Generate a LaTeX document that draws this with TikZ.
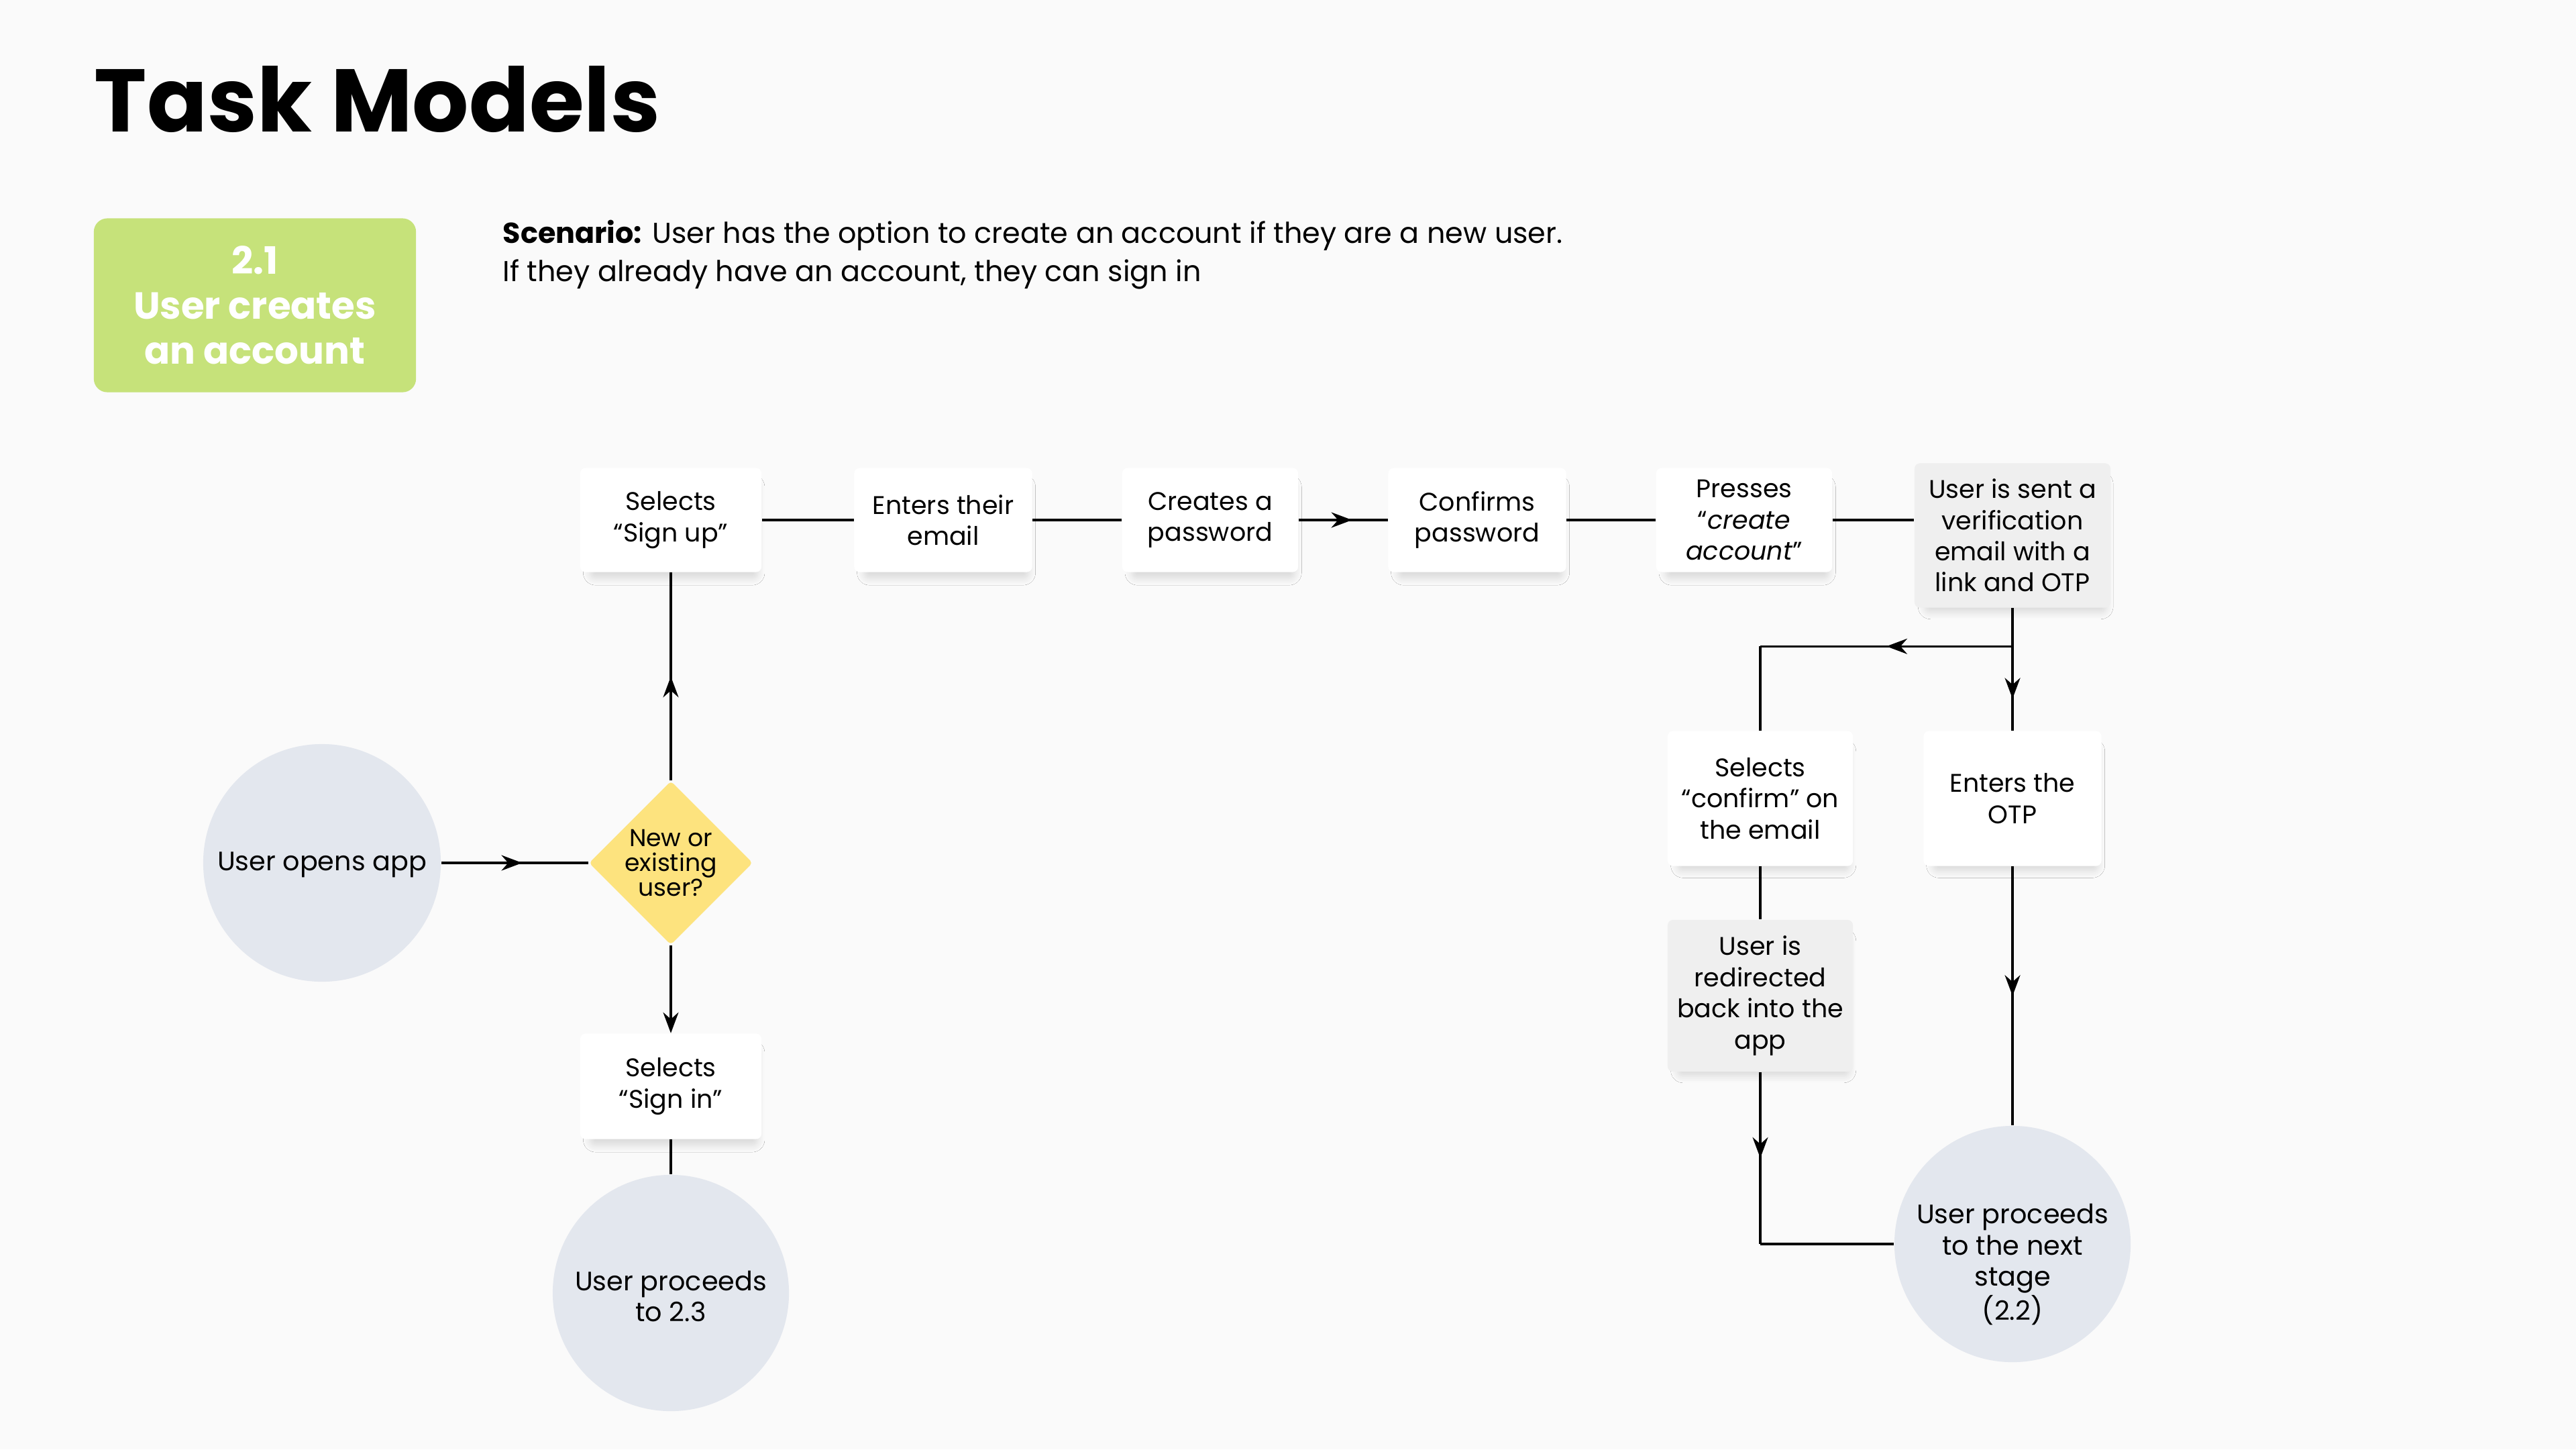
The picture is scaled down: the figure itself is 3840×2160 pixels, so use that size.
\documentclass[tikz,border=0pt]{standalone}
\usepackage{fontspec}
\setmainfont{Poppins}
\usetikzlibrary{arrows.meta,shapes.geometric,decorations.markings,shadows.blur}
\definecolor{bgcol}{HTML}{FAFAFA}
\definecolor{circcol}{HTML}{E3E7EE}
\definecolor{diacol}{HTML}{FDE37E}
\definecolor{greencol}{HTML}{C6E27A}
\definecolor{graycol}{HTML}{EFEFEF}
\newcommand{\lowtext}[2]{\raisebox{-#1}[0pt][0pt]{\begin{tabular}{@{}c@{}}#2\end{tabular}}}
\tikzset{
  box/.style={draw=none, fill=white, rounded corners=0.08cm, align=center, inner sep=0pt,
    font=\fontsize{10.8}{13.2}\selectfont,
    blur shadow={shadow xshift=0.05cm, shadow yshift=-0.16cm, shadow blur radius=0.12cm,
      shadow blur steps=8, shadow opacity=14, shadow scale=0.92}},
  graybox/.style={box, fill=graycol},
  disk/.style={circle, fill=circcol, align=center, inner sep=0pt, font=\fontsize{11.3}{13.2}\selectfont},
  dia/.style={diamond, fill=diacol, rounded corners=0.05cm, minimum width=2.44cm, minimum height=2.44cm,
    inner sep=0pt, align=center, font=\fontsize{10.3}{10.4}\selectfont},
  conn/.style={line width=0.032cm, black},
  midarrow/.style={conn, postaction={decorate}, decoration={markings,
    mark=at position #1 with {\arrow{Stealth[length=0.31cm,width=0.23cm]}}}},
  midarrow/.default=0.5,
  endarrow/.style={conn, -{Stealth[length=0.31cm,width=0.23cm]}},
}
\begin{document}
\begin{tikzpicture}[x=0.01cm, y=-0.01cm]
\fill[bgcol] (0,0) rectangle (3840,2160);
\useasboundingbox (0,0) rectangle (3840,2160);

% title
\node[anchor=base west, inner sep=0pt, font=\fontsize{37.7}{40}\selectfont\bfseries] (title) at (140,196) {Task Models};

% green label
\node[fill=greencol, rounded corners=0.2cm, minimum width=4.8cm, minimum height=2.59cm, align=center,
  inner sep=0pt, text=white, font=\fontsize{16}{19}\selectfont\bfseries] (label) at (380,455)
  {2.1\\User creates\\an account};

% scenario
\node[anchor=base west, inner sep=0pt, align=left, font=\fontsize{12.2}{16.2}\selectfont] (scen) at (749,419)
  {\textbf{Scenario:} User has the option to create an account if they are a new user.\\If they already have an account, they can sign in};

% nodes
\node[box, minimum width=2.70cm, minimum height=1.55cm] (signup) at (1000,775) {Selects\\“Sign up”};
\node[box, minimum width=2.65cm, minimum height=1.55cm] (email) at (1406,775) {Enters their\\email};
\node[box, minimum width=2.62cm, minimum height=1.55cm] (create) at (1804,775) {Creates a\\password};
\node[box, minimum width=2.65cm, minimum height=1.55cm] (confirm) at (2202,775) {Confirms\\password};
\node[box, minimum width=2.62cm, minimum height=1.55cm] (presses) at (2600,775) {Presses\\“\textit{create}\\\textit{account}”};
\node[graybox, minimum width=2.92cm, minimum height=2.15cm] (verif) at (3000,798) {User is sent a\\verification\\email with a\\link and OTP};
\node[box, minimum width=2.76cm, minimum height=2.01cm] (selconf) at (2624,1190) {Selects\\“confirm” on\\the email};
\node[box, minimum width=2.65cm, minimum height=2.01cm] (otp) at (3000,1190) {Enters the\\OTP};
\node[graybox, minimum width=2.76cm, minimum height=2.26cm] (redir) at (2624,1484) {User is\\redirected\\back into the\\app};
\node[disk, minimum size=3.52cm] (next) at (3000,1854) {\lowtext{0.42cm}{User proceeds\\to the next\\stage\\(2.2)}};
\node[disk, minimum size=3.54cm] (opens) at (480,1286) {\lowtext{0.12cm}{User opens app}};
\node[dia] (dec) at (1000,1286) {New or\\existing\\user?};
\node[box, minimum width=2.70cm, minimum height=1.57cm] (signin) at (1000,1619) {Selects\\“Sign in”};
\node[disk, minimum size=3.52cm] (to23) at (1000,1927) {\lowtext{0.2cm}{User proceeds\\to 2.3}};

% connectors
\draw[midarrow=0.55] (opens) -- (dec);
\draw[midarrow] (dec) -- (signup);
\draw[endarrow] (dec) -- (signin);
\draw[conn] (signin) -- (to23);
\draw[conn] (signup) -- (email);
\draw[conn] (email) -- (create);
\draw[midarrow=0.6] (create) -- (confirm);
\draw[conn] (confirm) -- (presses);
\draw[conn] (presses.east) -- (presses.east -| verif.west);
\path (verif.south) ++(0,57) coordinate (j);
\coordinate (k) at (j -| selconf.north);
\draw[midarrow=0.74] (verif) -- (otp);
\draw[midarrow] (j) -- (k);
\draw[conn] (k) -- (selconf);
\draw[conn] (selconf) -- (redir);
\coordinate (m) at (redir.south |- next.west);
\draw[midarrow] (redir) -- (m);
\draw[conn] (m) -- (next);
\draw[midarrow] (otp) -- (next);
\end{tikzpicture}
\end{document}
